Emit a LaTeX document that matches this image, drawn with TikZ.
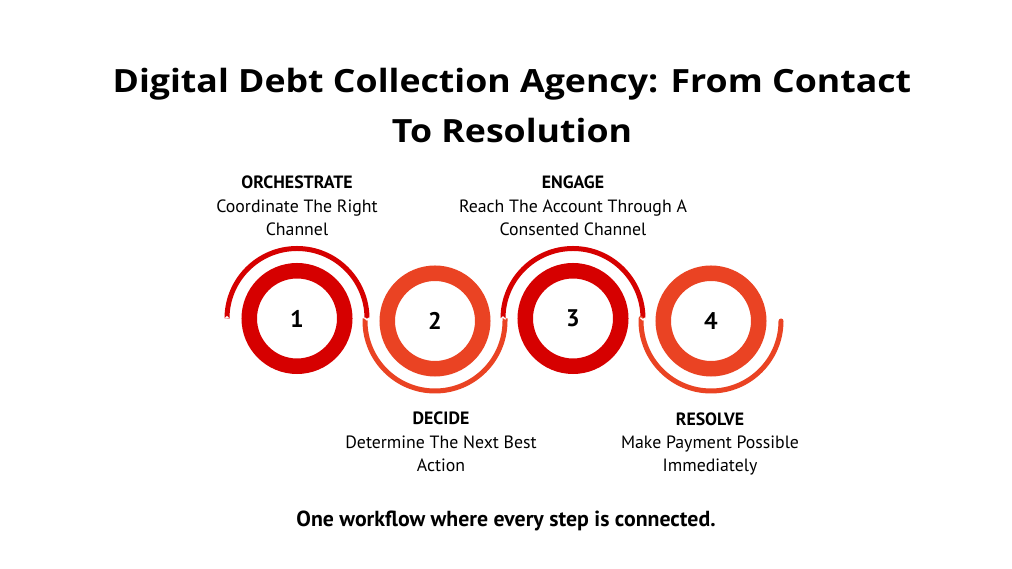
\documentclass[tikz,border=0pt]{standalone}
\usepackage{fontspec}
\usepackage{xcolor}
\setmainfont{PT Sans}
\newfontfamily\headfont[FakeStretch=1.115]{Open Sans}
\definecolor{stepred}{RGB}{214, 0, 0}
\definecolor{steporange}{RGB}{234, 67, 35}
\usetikzlibrary{positioning}

\begin{document}
\begin{tikzpicture}[
        x=1pt, y=1pt,
        ring/.style={circle, minimum size=95.5pt, inner sep=0pt, line width=15.5pt, font=\fontsize{24}{28}\selectfont\bfseries},
        flow/.style={line width=5pt},
        notch/.style={draw=white, line width=1.3pt},
        steplabel/.style={align=center, font=\fontsize{17.8}{23.3}\selectfont},
    ]

        % Canvas
        \fill[white] (0,0) rectangle (1012,569);
        \useasboundingbox (0,0) rectangle (1012,569);

        % Title
        \node[align=center, font=\headfont\bfseries\fontsize{32}{50}\selectfont] (title) at (512,463.5) {Digital Debt Collection Agency: From Contact\\To Resolution};

        % Steps
        \node[ring, draw=stepred] (one) at (297,250.5) {1};
        \node[ring, draw=steporange] (two) at (435,248) {2};
        \node[ring, draw=stepred] (three) at (573,250.5) {3};
        \node[ring, draw=steporange] (four) at (711,248) {4};

        % Flow arcs
        \draw[flow, stepred] ([xshift=-70pt]one.center) arc[start angle=180, end angle=0, radius=70pt];
        \draw[flow, steporange] ([xshift=-70pt, yshift=2.5pt]two.center) -- ([xshift=-70pt]two.center) arc[start angle=180, end angle=360, radius=70pt] -- ++(0,2.5);
        \draw[flow, stepred] ([xshift=-70pt]three.center) arc[start angle=180, end angle=0, radius=70pt];
        \draw[flow, steporange, line cap=round] ([xshift=-70pt, yshift=2.5pt]four.center) -- ([xshift=-70pt]four.center) arc[start angle=180, end angle=360, radius=70pt];

        % Notches
        \coordinate (j0) at ([xshift=-70pt]one.center);
        \coordinate (j1) at ([xshift=70pt]one.center);
        \coordinate (j2) at ([xshift=-70pt]three.center);
        \coordinate (j3) at ([xshift=70pt]three.center);
        \fill[white] ([xshift=-2.6pt]j0) -- ([xshift=2.6pt]j0) -- ([yshift=2.5pt]j0) -- cycle;
        \draw[notch] ([shift={(-2.6,0.8)}]j1) -- ([shift={(0,-1.4)}]j1) -- ([shift={(2.6,0.8)}]j1);
        \draw[notch] ([shift={(-2.6,-0.8)}]j2) -- ([shift={(0,1.4)}]j2) -- ([shift={(2.6,-0.8)}]j2);
        \draw[notch] ([shift={(-2.6,0.8)}]j3) -- ([shift={(0,-1.4)}]j3) -- ([shift={(2.6,0.8)}]j3);

        % Labels
        \node[steplabel] (orchestrate) at (297,363) {\textbf{ORCHESTRATE}\\Coordinate The Right\\Channel};
        \node[steplabel] (engage) at (573,363) {\textbf{ENGAGE}\\Reach The Account Through A\\Consented Channel};
        \node[steplabel] (decide) at (441,127) {\textbf{DECIDE}\\Determine The Next Best\\Action};
        \node[steplabel] (resolve) at (710,125) {\textbf{RESOLVE}\\Make Payment Possible\\Immediately};

        % Footer
        \node[font=\bfseries\fontsize{21.8}{26}\selectfont] (footer) at (506,48) {One workflow where every step is connected.};

    \end{tikzpicture}
\end{document}
